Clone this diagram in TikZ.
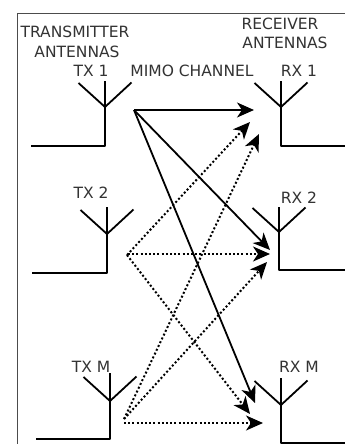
\documentclass[tikz,border=0pt]{standalone}
\usepackage{fontspec}
\setmainfont{DejaVu Sans}
\usetikzlibrary{arrows.meta}
\definecolor{lbl}{gray}{0.2}
\tikzset{
  x=1pt,y=-1pt,
  ant/.style={draw=black,line width=1.8pt,line join=round},
  tag/.style={text=lbl,font=\fontsize{15.5}{17}\selectfont,inner sep=0pt,anchor=center},
  solidlink/.style={draw=black,line width=1.8pt,-{Stealth[length=17pt,width=15pt,inset=5pt]}},
  dotlink/.style={draw=black,line width=2pt,dash pattern=on 2pt off 2.2pt,-{Stealth[length=17pt,width=15pt,inset=5pt]}}
}
\newcommand{\antenna}[6]{%
  % name, junction x,y, bottom y, feed end x, top y
  \coordinate (#1j) at (#2,#3);
  \coordinate (#1t) at (#2,#6);
  \coordinate (#1l) at (#2-26.5,#3-24);
  \coordinate (#1r) at (#2+26.5,#3-24.5);
  \coordinate (#1b) at (#2,#4);
  \coordinate (#1f) at (#5,#4);
  \draw[ant] (#1l) -- (#1j) -- (#1r);
  \draw[ant] (#1t) -- (#1j) -- (#1b) -- (#1f);
}
\begin{document}
\begin{tikzpicture}
\useasboundingbox (0,0) rectangle (345,444);
\fill[white] (0,0) rectangle (345,444);
\coordinate (frameA) at (17.5,444);
\coordinate (frameB) at (17.5,13);
\coordinate (frameC) at (345,13);
\draw[draw=black!70,line width=0.9pt] (frameA) -- (frameB) -- (frameC);

\antenna{tx1}{105}{107}{146}{31}{81}
\antenna{rx1}{281}{107}{146}{345}{81}
\antenna{tx2}{107}{234}{273}{32}{207}
\antenna{rx2}{279}{232}{270}{345}{207}
\antenna{txm}{110}{401}{439}{36}{373}
\antenna{rxm}{281}{405}{443}{345}{378}

\node[tag] (t1) at (75,32) {TRANSMITTER};
\node[tag] (t2) at (77,52) {ANTENNAS};
\node[tag] (t3) at (280,24) {RECEIVER};
\node[tag] (t4) at (285,43) {ANTENNAS};
\node[tag] (t5) at (192,71) {MIMO CHANNEL};
\node[tag] (l1) at (91,71) {TX 1};
\node[tag] (l2) at (91,193) {TX 2};
\node[tag] (l3) at (91,367) {TX M};
\node[tag] (r1) at (299,71) {RX 1};
\node[tag] (r2) at (299,198) {RX 2};
\node[tag] (r3) at (299,367) {RX M};

\coordinate (s1) at (134,110);
\coordinate (s2) at (127,255);
\coordinate (s2h) at (128,254);
\coordinate (s3) at (124,419);
\coordinate (s3h) at (124,423);
\coordinate (a1) at (254,110);
\coordinate (a2) at (270,250);
\coordinate (a3) at (255,403);
\coordinate (b1) at (250,122);
\coordinate (b2) at (270,254);
\coordinate (b3) at (250,414);
\coordinate (c1) at (259,134);
\coordinate (c2) at (267,262);
\coordinate (c3) at (263,423);

\draw[solidlink] (s1) -- (a1);
\draw[solidlink] (s1) -- (a2);
\draw[solidlink] (s1) -- (a3);
\draw[dotlink] (s2) -- (b1);
\draw[dotlink] (s2h) -- (b2);
\draw[dotlink] (s2) -- (b3);
\draw[dotlink] (s3) -- (c1);
\draw[dotlink] (s3) -- (c2);
\draw[dotlink] (s3h) -- (c3);
\end{tikzpicture}
\end{document}
